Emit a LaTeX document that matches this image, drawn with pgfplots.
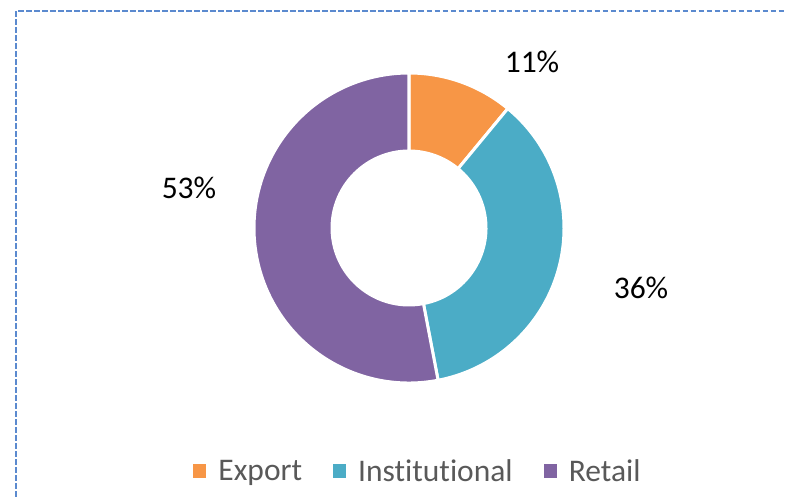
\documentclass[border=0pt]{standalone}
\usepackage{fontspec}
\setmainfont{Carlito}[Ligatures=NoCommon]
\usepackage{pgfplots}
\usepackage{pgfplotstable}
\pgfplotsset{compat=1.18}
\definecolor{cExport}{HTML}{F79646}
\definecolor{cInst}{HTML}{4BACC6}
\definecolor{cRetail}{HTML}{8064A2}
\definecolor{cBorder}{RGB}{91,138,207}
\definecolor{cLeg}{RGB}{89,89,89}
\pgfplotstableread{
label value
Export 11
Institutional 36
Retail 53
}\sharetable
\begin{document}
\begin{tikzpicture}
\pgfplotstablegetelem{0}{value}\of\sharetable \pgfmathsetmacro\vA{\pgfplotsretval}
\pgfplotstablegetelem{1}{value}\of\sharetable \pgfmathsetmacro\vB{\pgfplotsretval}
\pgfplotstablegetelem{2}{value}\of\sharetable \pgfmathsetmacro\vC{\pgfplotsretval}
\pgfmathsetmacro\tot{\vA+\vB+\vC}
\pgfmathsetmacro\aA{90}
\pgfmathsetmacro\aB{\aA-\vA/\tot*360}
\pgfmathsetmacro\aC{\aB-\vB/\tot*360}
\pgfmathsetmacro\aD{\aC-\vC/\tot*360}
\newcommand\slice[3]{%
  \filldraw[fill=#3, draw=white, line width=3bp, line join=miter]
    ([shift={(#1:155bp)}]axis cs:409,269) arc[start angle=#1, end angle=#2, radius=155bp]
    -- ([shift={(#2:77bp)}]axis cs:409,269) arc[start angle=#2, end angle=#1, radius=77bp]
    -- cycle;}
\begin{axis}[
  scale only axis, width=785bp, height=497bp,
  xmin=0, xmax=785, ymin=0, ymax=497,
  hide axis, clip=false,
  legend columns=3,
  legend style={draw=none, fill=none, at={(axis cs:418,26)}, anchor=center,
    font=\fontsize{31.5bp}{36bp}\selectfont, text=cLeg,
    /tikz/every even column/.append style={column sep=29bp}},
  legend image code/.code={\fill[#1] (0bp,-6.5bp) rectangle (13bp,6.5bp); \path (23bp,0bp);},
]
\draw[cBorder, line width=2bp, dash pattern=on 5.5bp off 2.5bp]
  (axis cs:16,0) -- (axis cs:16,485.5) -- (axis cs:785,485.5);
\slice{\aA}{\aB}{cExport}
\slice{\aB}{\aC}{cInst}
\slice{\aC}{\aD}{cRetail}
\node[anchor=base, font=\fontsize{31.5bp}{36bp}\selectfont] at (axis cs:532,424) {11\%};
\node[anchor=base, font=\fontsize{31.5bp}{36bp}\selectfont] at (axis cs:641,198) {36\%};
\node[anchor=base, font=\fontsize{31.5bp}{36bp}\selectfont] at (axis cs:189,298) {53\%};
\addlegendimage{fill=cExport, draw=none}
\addlegendentry{Export}
\addlegendimage{fill=cInst, draw=none}
\addlegendentry{Institutional}
\addlegendimage{fill=cRetail, draw=none}
\addlegendentry{Retail}
\end{axis}
\pgfresetboundingbox
\path (current axis.south west) rectangle (current axis.north east);
\end{tikzpicture}
\end{document}
